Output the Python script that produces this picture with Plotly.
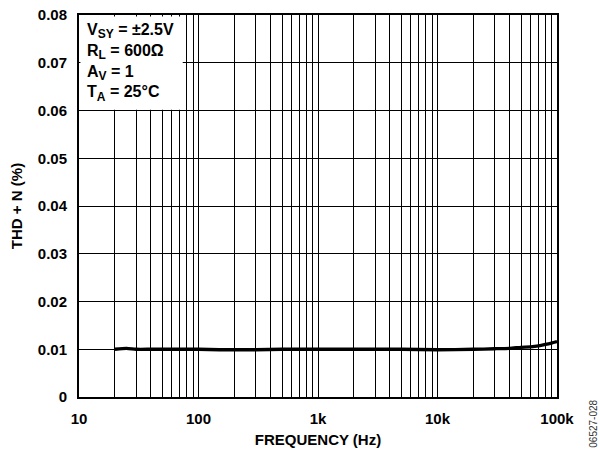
import plotly.graph_objects as go

# Measured THD+N versus frequency
freq_hz = [20, 25, 30, 40, 50, 70, 100, 150, 200, 300, 500, 1000, 2000,
           5000, 10000, 20000, 30000, 40000, 50000, 60000, 70000, 80000,
           90000, 100000]
thd_pct = [0.0100, 0.0102, 0.0100, 0.0100, 0.0100, 0.0100, 0.0100, 0.0099,
           0.0099, 0.0099, 0.0100, 0.0100, 0.0100, 0.0100, 0.0099, 0.0100,
           0.0101, 0.0102, 0.0104, 0.0105, 0.0107, 0.0110, 0.0113, 0.0116]

x_major = [10, 100, 1000, 10000, 100000]
x_major_text = ["10", "100", "1k", "10k", "100k"]
y_ticks = [0, 0.01, 0.02, 0.03, 0.04, 0.05, 0.06, 0.07, 0.08]
y_tick_text = ["0", "0.01", "0.02", "0.03", "0.04", "0.05", "0.06", "0.07", "0.08"]

# gridline positions at every 1..9 multiple of each decade
x_grid = []
x_grid_text = []
for dec in [10, 100, 1000, 10000]:
    for m in range(1, 10):
        v = dec * m
        x_grid.append(v)
        x_grid_text.append(x_major_text[x_major.index(v)] if v in x_major else "")
x_grid.append(100000)
x_grid_text.append("100k")

FONT = "Liberation Sans, Arial, sans-serif"


def sub(s):
    return '<sub><span style="font-size:12px">' + s + "</span></sub>"


fig = go.Figure()
fig.add_trace(go.Scatter(
    x=freq_hz, y=thd_pct, mode="lines",
    line=dict(color="black", width=3.3, shape="spline", smoothing=0.6),
    showlegend=False, hoverinfo="skip",
))

fig.update_layout(
    width=600, height=452,
    margin=dict(l=79, r=43, t=15, b=55),
    paper_bgcolor="white", plot_bgcolor="white",
    font=dict(family=FONT, color="black", size=15),
    xaxis=dict(
        type="log", range=[1, 5], automargin=False,
        tickvals=x_grid, ticktext=x_grid_text,
        tickfont=dict(family=FONT, size=15, color="black", weight="bold"),
        showgrid=True, gridcolor="black", gridwidth=1.3,
        showline=True, linecolor="black", linewidth=2, mirror=True,
        ticks="", ticklabelstandoff=7, zeroline=False,
        title=dict(text="<b>FREQUENCY (Hz)</b>", font=dict(family=FONT, size=15),
                   standoff=8),
    ),
    yaxis=dict(
        range=[0, 0.08], automargin=False,
        tickvals=y_ticks, ticktext=y_tick_text,
        tickfont=dict(family=FONT, size=15, color="black", weight="bold"),
        showgrid=True, gridcolor="black", gridwidth=1.3,
        showline=True, linecolor="black", linewidth=2, mirror=True,
        ticks="", ticklabelstandoff=7, zeroline=False,
        title=dict(text="<b>THD + N (%)</b>", font=dict(family=FONT, size=15),
                   standoff=12),
    ),
)

# white panel holding the test conditions, covering the grid in the corner
fig.add_shape(
    type="rect", xref="paper", yref="paper", layer="above",
    x0=0.003, x1=0.217, y0=0.752, y1=0.996,
    fillcolor="white", line=dict(width=0),
)
fig.add_annotation(
    xref="paper", yref="paper", x=0.012, y=0.99, xanchor="left", yanchor="top",
    align="left", showarrow=False,
    font=dict(family=FONT, size=16, color="black"),
    text=("<b>V" + sub("SY") + " = ±2.5V</b><br><b>R" + sub("L") + " = 600Ω</b><br>"
          "<b>A" + sub("V") + " = 1</b><br><b>T" + sub("A") + " = 25°C</b>"),
)

# figure code along the right edge
fig.add_annotation(
    xref="paper", yref="paper", x=1.0, xshift=37, y=-0.07,
    xanchor="center", yanchor="middle", textangle=-90, showarrow=False,
    font=dict(family=FONT, size=10, color="#333333"),
    text="06527-028",
)

fig.write_html("out.html")
